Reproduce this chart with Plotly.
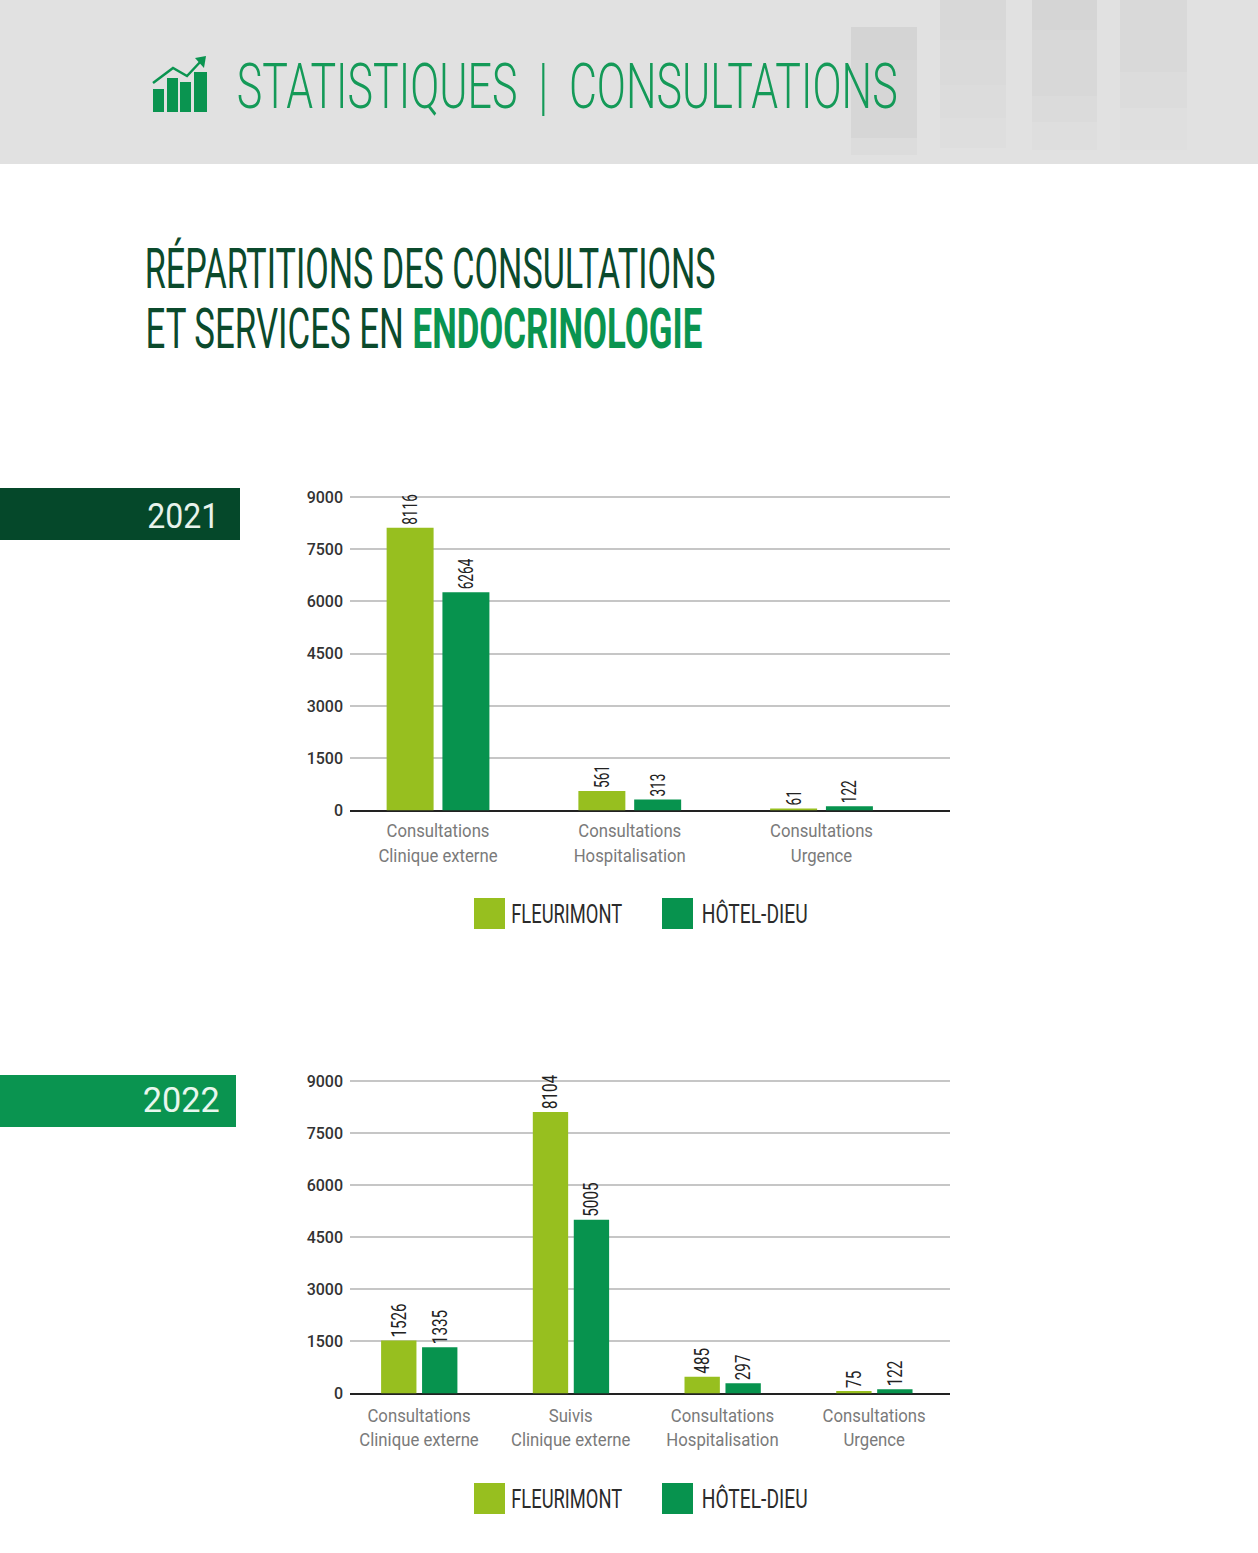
import json

import plotly.graph_objects as go

W, H = 1258, 1553

SERIES = ["FLEURIMONT", "HÔTEL-DIEU"]
COLORS = ["#97bf1f", "#07934e"]

cats_2021 = ["Consultations<br>Clinique externe", "Consultations<br>Hospitalisation", "Consultations<br>Urgence"]
fleurimont_2021 = [8116, 561, 61]
hotel_dieu_2021 = [6264, 313, 122]

cats_2022 = ["Consultations<br>Clinique externe", "Suivis<br>Clinique externe", "Consultations<br>Hospitalisation", "Consultations<br>Urgence"]
fleurimont_2022 = [1526, 8104, 485, 75]
hotel_dieu_2022 = [1335, 5005, 297, 122]

y_ticks = [0, 1500, 3000, 4500, 6000, 7500, 9000]

FONT = "Roboto"
DARK_GREEN = "#0b4a2c"
HEADER_TEXT = "STATISTIQUES\u00a0\u00a0|\u00a0\u00a0CONSULTATIONS"


def px_x(x):
    return x / W


def px_y(y):
    return 1 - y / H


def rect(x0, y0, x1, y1, color):
    return dict(type="rect", xref="paper", yref="paper", layer="below",
                x0=px_x(x0), x1=px_x(x1), y0=px_y(y0), y1=px_y(y1),
                fillcolor=color, line=dict(width=0))


def label(x, y, text, size, color, weight=400):
    return dict(xref="paper", yref="paper", x=px_x(x), y=px_y(y), text=text,
                showarrow=False, xanchor="center", yanchor="middle",
                font=dict(family=FONT, size=size, color=color, weight=weight))


fig = go.Figure()


def add_chart(cats, v1, v2, xaxis, yaxis, top, bottom, x_range, bar_width, offsets, tick_size, standoff):
    for name, vals, color, offset in zip(SERIES, [v1, v2], COLORS, offsets):
        fig.add_trace(go.Bar(
            x=cats, y=vals, name=name, xaxis=xaxis, yaxis=yaxis,
            marker=dict(color=color, line=dict(width=0)),
            text=[str(v) for v in vals], textposition="outside", textangle=-90,
            textfont=dict(family=FONT, size=20, color="#222222"),
            constraintext="none", cliponaxis=False, showlegend=False,
            width=bar_width, offset=offset,
        ))
    suffix = xaxis[1:]
    fig.update_layout({
        "xaxis" + suffix: dict(
            domain=[px_x(350), px_x(950)], range=x_range, anchor=yaxis,
            type="category", categoryorder="array", categoryarray=cats,
            showgrid=False, showline=False, zeroline=False, ticks="", automargin=False,
            tickfont=dict(family=FONT, size=tick_size, color="#7a7a7a"),
            ticklabelstandoff=standoff,
        ),
        "yaxis" + suffix: dict(
            # a little headroom, otherwise the 9000 gridline gets dropped
            domain=[px_y(bottom), px_y(top)], range=[0, 9100], anchor=xaxis,
            tickvals=y_ticks, ticktext=[str(t) for t in y_ticks], automargin=False,
            tickfont=dict(family=FONT, size=16, color="#333333", weight=500),
            showgrid=True, gridcolor="#c6c6c6", gridwidth=1.5,
            zeroline=True, zerolinecolor="#222222", zerolinewidth=1.5,
            showline=False, ticks="", ticklabelstandoff=6,
        ),
    })


# bar widths / offsets in category units
add_chart(cats_2021, fleurimont_2021, hotel_dieu_2021, "x", "y", 493.5, 810.5,
          [-0.459, 2.670], 0.245, [-0.268, 0.023], 19, 7)
add_chart(cats_2022, fleurimont_2022, hotel_dieu_2022, "x2", "y2", 1077.5, 1393.5,
          [-0.455, 3.5], 0.233, [-0.25, 0.02], 18, 10)

shapes = [rect(0, 0, W, 164, "#e1e1e1")]

# faded bars behind the header
for x0, x1, steps in [(851, 917, [(27, 60, "#d4d4d4"), (60, 138, "#d6d6d6"), (138, 155, "#dcdcdc")]),
                      (940, 1006, [(0, 40, "#d8d8d8"), (40, 85, "#dadada"), (85, 118, "#dcdcdc"), (118, 148, "#dedede")]),
                      (1032, 1097, [(0, 30, "#d5d5d5"), (30, 96, "#d8d8d8"), (96, 122, "#dbdbdb"), (122, 150, "#dedede")]),
                      (1120, 1187, [(0, 72, "#d9d9d9"), (72, 108, "#dcdcdc"), (108, 150, "#dfdfdf")])]:
    for y0, y1, color in steps:
        shapes.append(rect(x0, y0, x1, y1, color))

# header icon
for x0, x1, y0 in [(153, 164, 89), (167, 178, 78), (180, 191, 82), (194, 207, 72)]:
    shapes.append(rect(x0, y0, x1, 112, "#0a9450"))
shapes.append(dict(type="path", xref="paper", yref="paper",
                   path="M %f %f L %f %f L %f %f L %f %f" % (
                       px_x(153), px_y(83), px_x(173), px_y(68), px_x(187), px_y(76), px_x(202), px_y(60)),
                   line=dict(color="#0a9450", width=2.5)))
shapes.append(dict(type="path", xref="paper", yref="paper",
                   path="M %f %f L %f %f L %f %f Z" % (
                       px_x(195), px_y(58), px_x(206), px_y(56), px_x(204), px_y(68)),
                   fillcolor="#0a9450", line=dict(width=0)))

# year banners
shapes.append(rect(0, 488, 240, 540, "#05482a"))
shapes.append(rect(0, 1075, 236, 1127, "#0a9450"))

# legends
for y in [914, 1499]:
    shapes.append(rect(474, y - 16, 505, y + 15, COLORS[0]))
    shapes.append(rect(662, y - 16, 693, y + 15, COLORS[1]))

annotations = [
    label(566.5, 87, HEADER_TEXT, 63, "#149a58", weight=300),
    label(430.5, 269, "RÉPARTITIONS DES CONSULTATIONS", 56, DARK_GREEN),
    label(423.5, 329, "ET SERVICES EN <b><span style='color:#0a9450'>ENDOCRINOLOGIE</span></b>", 56, DARK_GREEN),
    label(183, 516, "2021", 35, "#e8f3ec"),
    label(181.5, 1100, "2022", 35, "#e8f7ee"),
]
for y in [914, 1499]:
    annotations.append(label(566.5, y, SERIES[0], 26, "#2b2b2b"))
    annotations.append(label(754, y, SERIES[1], 26, "#2b2b2b"))

fig.update_layout(
    width=W, height=H, autosize=False,
    margin=dict(l=0, r=0, t=0, b=0),
    paper_bgcolor="white", plot_bgcolor="white",
    barmode="overlay",
    shapes=shapes, annotations=annotations,
)

# No condensed font is installed, so squeeze the real text to the reference widths
text_widths = {
    HEADER_TEXT: 661,
    "RÉPARTITIONS DES CONSULTATIONS": 571,
    "ET SERVICES EN ENDOCRINOLOGIE": 557,
    "2021": 72,
    "2022": 77,
    "FLEURIMONT": 111,
    "HÔTEL-DIEU": 106,
}
squeeze_js = """
document.body.style.margin = '0';
var widths = %s;
function squeeze(t, sx, anchor) {
    var b = t.getBBox();
    var cx = anchor === 'start' ? b.x : b.x + b.width / 2;
    var old = t.getAttribute('transform') || '';
    t.setAttribute('transform', old + ' translate(' + cx + ' 0) scale(' + sx + ' 1) translate(' + (-cx) + ' 0)');
}
document.querySelectorAll('.annotation-text').forEach(function (t) {
    var w = widths[t.textContent];
    if (w) { squeeze(t, w / t.getBBox().width); }
});
document.querySelectorAll('.xtick text').forEach(function (t) { squeeze(t, 0.88); });
document.querySelectorAll('.x2tick text').forEach(function (t) { squeeze(t, 0.93); });
document.querySelectorAll('.xy text.bartext').forEach(function (t) { squeeze(t, 0.68, 'start'); });
document.querySelectorAll('.x2y2 text.bartext').forEach(function (t) { squeeze(t, 0.76, 'start'); });
""" % json.dumps(text_widths)

fig.write_html("out.html", post_script=squeeze_js, config={"displayModeBar": False})
